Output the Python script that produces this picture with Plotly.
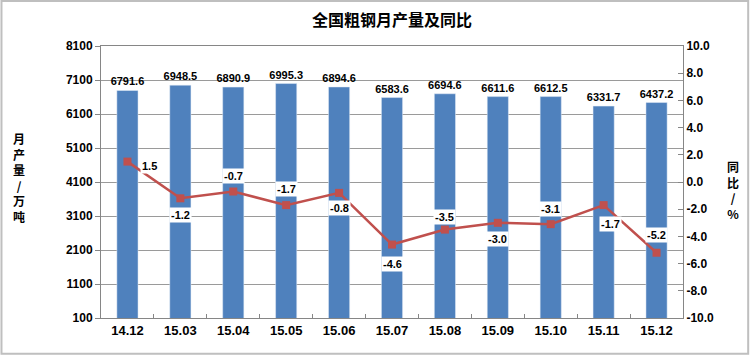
import plotly.graph_objects as go

categories = ["14.12", "15.03", "15.04", "15.05", "15.06", "15.07", "15.08", "15.09", "15.10", "15.11", "15.12"]
output_values = [6791.6, 6948.5, 6890.9, 6995.3, 6894.6, 6583.6, 6694.6, 6611.6, 6612.5, 6331.7, 6437.2]
yoy_values = [1.5, -1.2, -0.7, -1.7, -0.8, -4.6, -3.5, -3.0, -3.1, -1.7, -5.2]
left_ticks = [100, 1100, 2100, 3100, 4100, 5100, 6100, 7100, 8100]
right_ticks = [-10, -8, -6, -4, -2, 0, 2, 4, 6, 8, 10]
# label offsets (pixels) for the yoy labels
label_dx = [22, 0, 0, 0, 0, 0, 0, 0, 0, 7, 0]
label_dy = [-4, -17, 16, 16, -15, -19, 13, -16, 15, -19, 18]

BAR = "#4F81BD"
LINE = "#C0504D"
FONT = "Arial, Liberation Sans, sans-serif"

fig = go.Figure()
fig.add_trace(go.Bar(
    x=categories, y=output_values, marker_color=BAR, width=0.4,
    text=[f"{v:.1f}" for v in output_values], textposition="outside",
    constraintext="none",
    textfont=dict(family=FONT, size=11, color="black", weight="bold"),
    cliponaxis=False, yaxis="y", showlegend=False,
))
fig.add_trace(go.Scatter(
    x=categories, y=yoy_values, mode="lines+markers", yaxis="y2",
    line=dict(color=LINE, width=2.5),
    marker=dict(symbol="square", size=8, color=LINE),
    showlegend=False,
))

for i, (v, dx, dy) in enumerate(zip(yoy_values, label_dx, label_dy)):
    fig.add_annotation(
        x=i, y=v, xref="x", yref="y2", text=f"{v:.1f}", showarrow=False,
        xshift=dx, yshift=dy, bgcolor="white", borderpad=1,
        font=dict(family=FONT, size=11, color="black", weight="bold"),
    )

fig.add_annotation(
    x=0.5, y=1, xref="paper", yref="paper", yanchor="middle", xanchor="center",
    yshift=27, text="全国粗钢月产量及同比",
    showarrow=False, font=dict(family="Noto Sans CJK SC", size=16, color="black", weight="bold"),
)
fig.add_annotation(
    x=-0.141, y=0.518, xref="paper", yref="paper", xanchor="center", yanchor="middle",
    text="月<br>产<br>量<br>/<br>万<br>吨",
    showarrow=False, font=dict(family="Noto Sans CJK SC", size=12, color="black", weight="bold"),
)
fig.add_annotation(
    x=1.086, y=0.47, xref="paper", yref="paper", xanchor="center", yanchor="middle",
    text="同<br>比<br>/<br>%",
    showarrow=False, font=dict(family="Noto Sans CJK SC", size=12, color="black", weight="bold"),
)

# outer frame
fig.add_shape(type="rect", xref="paper", yref="paper",
              x0=-0.171, x1=1.112, y0=-0.131, y1=1.165,
              line=dict(color="#BFBFBF", width=2))

fig.update_layout(
    width=750, height=356,
    margin=dict(l=101, r=67, t=46, b=38),
    paper_bgcolor="white", plot_bgcolor="white",
    xaxis=dict(
        type="category", range=[-0.5, 10.5], showline=True, linecolor="#868686", linewidth=1,
        mirror=True, ticks="inside", ticklen=4, tickcolor="#868686",
        tickson="boundaries", tickangle=0,
        tickfont=dict(family=FONT, size=13, color="black", weight="bold"),
    ),
    yaxis=dict(
        range=[100, 8100], tickvals=left_ticks, ticktext=[str(t) for t in left_ticks],
        showgrid=True, gridcolor="#9A9A9A", gridwidth=1,
        showline=True, linecolor="#868686", linewidth=1,
        ticks="outside", ticklen=5, tickcolor="#868686", zeroline=False,
        tickfont=dict(family=FONT, size=12, color="black", weight="bold"),
    ),
    yaxis2=dict(
        range=[-10, 10], tickvals=right_ticks, ticktext=[f"{t:.1f}" for t in right_ticks],
        overlaying="y", side="right", showgrid=False, zeroline=False,
        showline=True, linecolor="#868686", linewidth=1,
        ticks="inside", ticklen=5, tickcolor="#868686",
        tickfont=dict(family=FONT, size=12, color="black", weight="bold"),
    ),
)

fig.write_html("out.html", config={"displayModeBar": False},
               post_script="document.body.style.margin='0';")
